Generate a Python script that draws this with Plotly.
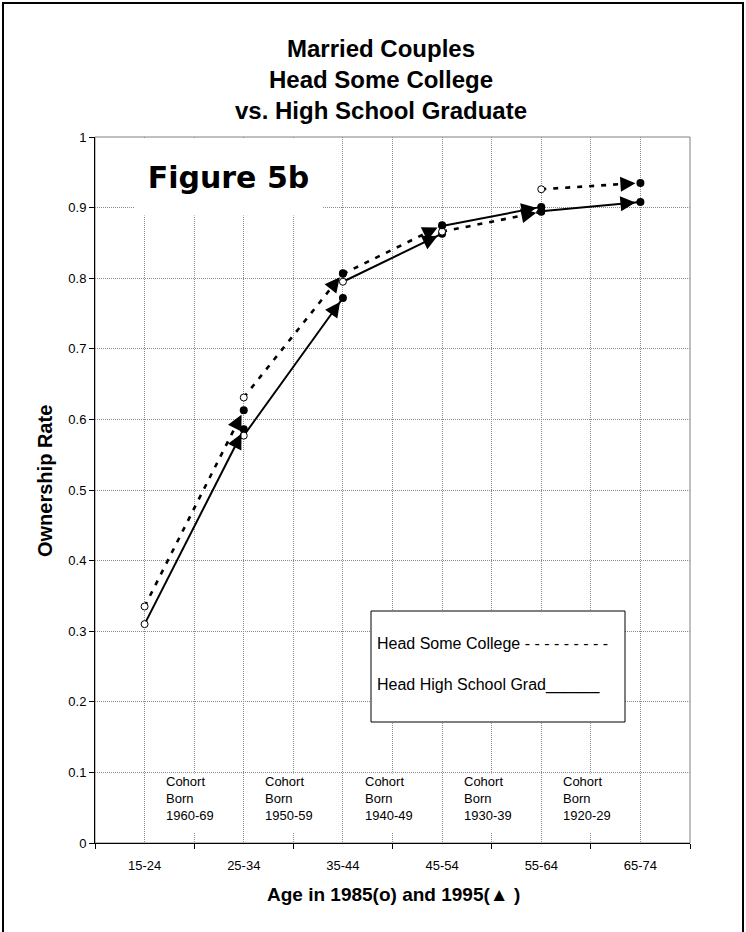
import plotly.graph_objects as go

# ---------------- data ----------------
categories = ["15-24", "25-34", "35-44", "45-54", "55-64", "65-74"]
cohort_labels = ["1960-69", "1950-59", "1940-49", "1930-39", "1920-29"]

# Head High School Grad (solid)
hs_1985 = [0.310, 0.577, 0.795, 0.874, 0.895, None]
hs_1995 = [None, 0.586, 0.772, 0.863, 0.901, 0.908]
# Head Some College (dashed)
sc_1985 = [0.335, 0.631, 0.806, 0.866, 0.926, None]
sc_1995 = [None, 0.613, 0.807, 0.875, 0.894, 0.935]

y_ticks = [0, 0.1, 0.2, 0.3, 0.4, 0.5, 0.6, 0.7, 0.8, 0.9, 1]
y_tick_labels = ["0", "0.1", "0.2", "0.3", "0.4", "0.5", "0.6", "0.7", "0.8", "0.9", "1"]

# ---------------- layout constants ----------------
W, H = 746, 932
ML, MR, MT, MB = 95, 56, 137, 89
PW, PH = W - ML - MR, H - MT - MB
FONT = "Liberation Sans, Arial, sans-serif"
GRID = "#8a8a8a"

n = len(categories)
xpos = list(range(n))
bounds = [i - 0.5 for i in range(n + 1)]
px_x = PW / n
px_y = PH / 1.0


def px_to_paper_x(p):
    return (p - ML) / PW


def px_to_paper_y(p):
    return (H - MB - p) / PH


fig = go.Figure()


def cohort_path(s85, s95):
    xs, ys = [], []
    for i in range(n - 1):
        if s85[i] is None or s95[i + 1] is None:
            continue
        xs += [xpos[i], xpos[i + 1], None]
        ys += [s85[i], s95[i + 1], None]
    return xs, ys


# lines
xs, ys = cohort_path(sc_1985, sc_1995)
fig.add_trace(go.Scatter(x=xs, y=ys, mode="lines",
                         line=dict(color="black", width=2.6, dash="5px,7px"),
                         hoverinfo="skip", showlegend=False))
xs, ys = cohort_path(hs_1985, hs_1995)
fig.add_trace(go.Scatter(x=xs, y=ys, mode="lines",
                         line=dict(color="black", width=2),
                         hoverinfo="skip", showlegend=False))


def filled(vals):
    return go.Scatter(x=xpos, y=vals, mode="markers",
                      marker=dict(color="black", size=8, symbol="circle"),
                      hoverinfo="skip", showlegend=False)


def hollow(vals):
    return go.Scatter(x=xpos, y=vals, mode="markers",
                      marker=dict(color="white", size=7, symbol="circle",
                                  line=dict(color="black", width=1)),
                      hoverinfo="skip", showlegend=False)


# drawing order of the point series
fig.add_trace(filled(hs_1995))
fig.add_trace(hollow(hs_1985))
fig.add_trace(hollow(sc_1985))
fig.add_trace(filled(sc_1995))

annotations = []
# arrowheads near the 1995 end of each cohort segment
L = 15
for s85, s95 in ((hs_1985, hs_1995), (sc_1985, sc_1995)):
    for i in range(n - 1):
        if s85[i] is None or s95[i + 1] is None:
            continue
        dx = (xpos[i + 1] - xpos[i]) * px_x
        dy = (s95[i + 1] - s85[i]) * px_y
        d = (dx * dx + dy * dy) ** 0.5
        ux, uy = dx / d, dy / d
        annotations.append(dict(
            x=xpos[i + 1], y=s95[i + 1], xref="x", yref="y",
            ax=-ux * L, ay=uy * L, text="", showarrow=True,
            arrowhead=2, arrowsize=2, arrowwidth=1.5, arrowcolor="black",
            standoff=5))

# cohort labels at category boundaries
for k, lab in enumerate(cohort_labels):
    annotations.append(dict(
        x=bounds[k + 1], y=0.0985, xref="x", yref="y",
        xanchor="left", yanchor="top", xshift=-29,
        text="Cohort<br>Born<br>" + lab, align="left", valign="top",
        showarrow=False, height=58,
        font=dict(family=FONT, size=13, color="black"),
        bgcolor="white", borderpad=0))

# legend-like text box
annotations.append(dict(
    x=px_to_paper_x(375), y=px_to_paper_y(643), xref="paper", yref="paper",
    xanchor="left", yanchor="middle", showarrow=False,
    text="Head Some College - - - - - - - - -",
    font=dict(family=FONT, size=16, color="black")))
annotations.append(dict(
    x=px_to_paper_x(375), y=px_to_paper_y(685), xref="paper", yref="paper",
    xanchor="left", yanchor="middle", showarrow=False,
    text="Head High School Grad______",
    font=dict(family=FONT, size=16, color="black")))

# Figure 5b label
annotations.append(dict(
    x=px_to_paper_x(228), y=px_to_paper_y(177), xref="paper", yref="paper",
    xanchor="center", yanchor="middle", showarrow=False,
    text="<b>Figure 5b</b>", width=185, height=74, bgcolor="white",
    font=dict(family="DejaVu Sans", size=30, color="black")))

# Title
annotations.append(dict(
    x=px_to_paper_x(381), y=px_to_paper_y(79), xref="paper", yref="paper",
    xanchor="center", yanchor="middle", showarrow=False,
    text="<b>Married Couples<br>Head Some College<br>vs. High School Graduate</b>",
    font=dict(family=FONT, size=24, color="black")))

# axis titles
annotations.append(dict(
    x=px_to_paper_x(45), y=px_to_paper_y(481), xref="paper", yref="paper",
    xanchor="center", yanchor="middle", showarrow=False, textangle=-90,
    text="<b>Ownership Rate</b>",
    font=dict(family=FONT, size=20, color="black")))
annotations.append(dict(
    x=px_to_paper_x(393), y=px_to_paper_y(894), xref="paper", yref="paper",
    xanchor="center", yanchor="middle", showarrow=False,
    text="<b>Age in 1985(o) and 1995(\u25b2 )</b>",
    font=dict(family=FONT, size=19, color="black")))

shapes = [
    # plot area border (gray)
    dict(type="rect", xref="paper", yref="paper", x0=0, x1=1, y0=0, y1=1,
         line=dict(color="#808080", width=1), layer="below"),
    # legend box
    dict(type="rect", xref="paper", yref="paper",
         x0=px_to_paper_x(371), x1=px_to_paper_x(625),
         y0=px_to_paper_y(722), y1=px_to_paper_y(611),
         line=dict(color="black", width=1), fillcolor="white", layer="above"),
    # outer frame
    dict(type="rect", xref="paper", yref="paper",
         x0=px_to_paper_x(3), x1=px_to_paper_x(743),
         y0=px_to_paper_y(950), y1=px_to_paper_y(3),
         line=dict(color="black", width=2), layer="above"),
]

fig.update_layout(
    width=W, height=H, autosize=False,
    margin=dict(l=ML, r=MR, t=MT, b=MB, pad=0),
    paper_bgcolor="white", plot_bgcolor="white",
    font=dict(family=FONT, color="black"),
    showlegend=False,
    annotations=annotations, shapes=shapes,
    xaxis=dict(
        range=[-0.5, n - 0.5], tickmode="array", tickvals=xpos, ticktext=categories,
        ticks="", showgrid=True, gridcolor=GRID, griddash="1px,1px", gridwidth=1,
        showline=True, linecolor="black", linewidth=1, zeroline=False,
        tickfont=dict(family=FONT, size=13, color="black"), ticklabelstandoff=10,
        minor=dict(tickmode="array", tickvals=bounds, ticks="outside", ticklen=5,
                   tickcolor="black", showgrid=True, gridcolor=GRID,
                   griddash="1px,1px", gridwidth=1),
        fixedrange=True),
    yaxis=dict(
        range=[0, 1], tickmode="array", tickvals=y_ticks, ticktext=y_tick_labels,
        ticks="outside", ticklen=5, tickcolor="black",
        showgrid=True, gridcolor=GRID, griddash="1px,1px", gridwidth=1,
        showline=True, linecolor="black", linewidth=1, zeroline=False,
        tickfont=dict(family=FONT, size=13, color="black"),
        fixedrange=True),
)

fig.write_html("out.html", config={"displayModeBar": False},
               post_script="document.body.style.margin='0px';")
